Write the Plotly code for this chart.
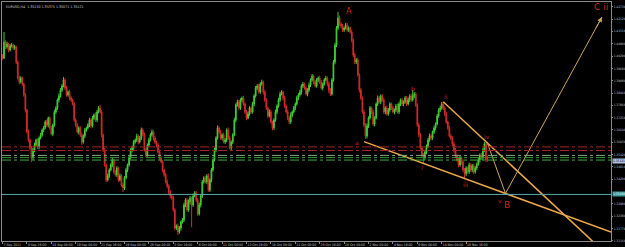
import plotly.graph_objects as go

# ---------------- data (EURUSD, H4) ----------------
first_open = 1.4030
closes = [
    1.4019, 1.4098, 1.4074, 1.4088, 1.4059, 1.4079, 1.4083, 1.4069, 1.4074,
    1.3999, 1.3920, 1.3901, 1.3920, 1.3891,
    1.3837, 1.3762, 1.3654, 1.3614, 1.3575,
    1.3525, 1.3565,
    1.3589, 1.3614, 1.3580, 1.3624, 1.3639, 1.3664, 1.3674, 1.3703, 1.3688, 1.3723,
    1.3674, 1.3644, 1.3688,
    1.3753, 1.3772, 1.3812, 1.3832, 1.3861, 1.3881, 1.3911,
    1.3871, 1.3837, 1.3851, 1.3822, 1.3812, 1.3792,
    1.3713, 1.3688, 1.3654, 1.3674, 1.3639, 1.3604, 1.3634, 1.3664, 1.3674,
    1.3688, 1.3713, 1.3684, 1.3723, 1.3738, 1.3713, 1.3753, 1.3772, 1.3753,
    1.3639, 1.3565, 1.3491, 1.3417, 1.3437, 1.3466,
    1.3491, 1.3515, 1.3456, 1.3442, 1.3476, 1.3417, 1.3437, 1.3392, 1.3377, 1.3427,
    1.3466, 1.3491, 1.3525, 1.3565, 1.3575, 1.3604, 1.3614, 1.3634,
    1.3604, 1.3624, 1.3664, 1.3644, 1.3565, 1.3540, 1.3589, 1.3614, 1.3639,
    1.3654, 1.3624, 1.3604, 1.3589,
    1.3555, 1.3525, 1.3506, 1.3466, 1.3442, 1.3407, 1.3387,
    1.3357, 1.3338, 1.3328, 1.3268, 1.3179,
    1.3189, 1.3160, 1.3179, 1.3209, 1.3219,
    1.3293, 1.3318, 1.3268, 1.3308, 1.3328, 1.3293, 1.3338, 1.3353, 1.3318, 1.3249,
    1.3293, 1.3338, 1.3407, 1.3427, 1.3407, 1.3437, 1.3367, 1.3417, 1.3466, 1.3515, 1.3565, 1.3624, 1.3674,
    1.3654, 1.3624, 1.3639, 1.3604, 1.3614, 1.3664, 1.3624, 1.3575, 1.3604, 1.3639,
    1.3713, 1.3787, 1.3802,
    1.3772, 1.3812, 1.3822, 1.3792, 1.3753, 1.3723, 1.3743, 1.3772, 1.3753, 1.3792, 1.3832, 1.3871,
    1.3881, 1.3851, 1.3891, 1.3901,
    1.3851, 1.3812, 1.3772, 1.3733, 1.3753, 1.3703, 1.3674,
    1.3713, 1.3753, 1.3782, 1.3812, 1.3841, 1.3851,
    1.3822, 1.3782, 1.3753, 1.3723, 1.3703,
    1.3738, 1.3753, 1.3772, 1.3792, 1.3822, 1.3837, 1.3851, 1.3881, 1.3891,
    1.3871, 1.3841, 1.3861, 1.3886,
    1.3911, 1.3930, 1.3901, 1.3881, 1.3911, 1.3920, 1.3901, 1.3871, 1.3891, 1.3911, 1.3920, 1.3891, 1.3861, 1.3841,
    1.3911, 1.3999, 1.4083, 1.4167, 1.4217,
    1.4187, 1.4177, 1.4158, 1.4167, 1.4182, 1.4158, 1.4167, 1.4148,
    1.4108, 1.4034, 1.3999, 1.4009, 1.3935, 1.3861, 1.3822, 1.3753, 1.3688, 1.3634,
    1.3684, 1.3723, 1.3772, 1.3753, 1.3693, 1.3723, 1.3792, 1.3822, 1.3802, 1.3832, 1.3812, 1.3753, 1.3772, 1.3743, 1.3762, 1.3792, 1.3772, 1.3753,
    1.3762, 1.3782, 1.3753, 1.3792, 1.3812, 1.3792, 1.3802, 1.3822, 1.3792, 1.3812, 1.3832, 1.3812, 1.3832, 1.3841, 1.3787, 1.3688,
    1.3639, 1.3575, 1.3540, 1.3525, 1.3555, 1.3584, 1.3614, 1.3634, 1.3624,
    1.3654, 1.3674, 1.3693, 1.3733, 1.3762, 1.3772, 1.3792,
    1.3772, 1.3743, 1.3703, 1.3674, 1.3634,
    1.3624, 1.3594, 1.3565, 1.3535, 1.3515, 1.3491, 1.3525, 1.3506,
    1.3466, 1.3447, 1.3476, 1.3456, 1.3491, 1.3466, 1.3486, 1.3456, 1.3476,
    1.3496, 1.3515, 1.3540, 1.3525, 1.3565, 1.3594,
    1.3515, 1.35121,
]
# upper / lower wick lengths in pips
wick_hi = [
    8, 50, 10, 12, 6, 9, 11, 7, 10, 6, 8, 12, 9, 7, 5, 9, 6, 11, 7, 8,
    10, 12, 6, 9, 8, 11, 7, 10, 9, 12, 6, 8, 10, 7, 11, 9, 8, 12, 10, 9,
    14, 8, 10, 7, 12, 9, 6, 10, 8, 11, 7, 9, 12, 8, 10, 6, 9, 11, 8, 10,
    7, 12, 9, 10, 14, 8, 6, 10, 7, 12, 9, 8, 11, 7, 10, 9, 6, 12, 8, 10,
    9, 11, 7, 10, 8, 12, 9, 7, 11, 8, 10, 12, 9, 7, 10, 8, 11, 9, 12, 8,
    10, 7, 9, 11, 8, 10, 6, 9, 12, 8, 10, 7, 11, 9, 8, 12, 10, 7, 9, 11,
    8, 10, 12, 9, 7, 11, 8, 10, 9, 12, 7, 10, 8, 11, 9, 12, 8, 10, 7, 11,
    9, 12, 8, 10, 7, 11, 9, 8, 12, 10, 7, 9, 11, 8, 12, 10, 9, 7, 11, 8,
    10, 12, 9, 7, 11, 8, 10, 9, 12, 8, 11, 7, 10, 9, 8, 12, 10, 7, 9, 11,
    8, 10, 12, 9, 7, 11, 8, 10, 9, 12, 7, 10, 8, 11, 9, 12, 8, 10, 7, 11,
    9, 12, 8, 10, 7, 11, 9, 8, 12, 10, 7, 9, 11, 8, 12, 10, 9, 11, 12, 10,
    30, 12, 9, 11, 8, 10, 12, 9, 7, 11, 8, 10, 9, 12, 8, 10, 7, 11, 9, 12,
    8, 10, 7, 11, 9, 8, 12, 10, 7, 9, 11, 8, 12, 10, 9, 7, 11, 8, 10, 12,
    9, 7, 11, 8, 10, 9, 12, 8, 11, 29, 10, 9, 8, 12, 10, 7, 9, 11, 8, 10,
    12, 9, 7, 11, 8, 10, 9, 12, 10, 11, 8, 10, 7, 11, 9, 8, 12, 10, 7, 9,
    11, 8, 12, 10, 9, 7, 11, 8, 10, 12, 9, 7, 11, 8, 10, 9, 10, 8, 22,
]
wick_lo = [
    8, 6, 10, 9, 12, 7, 8, 11, 9, 10, 7, 12, 8, 10, 9, 11, 8, 10, 12, 19,
    9, 11, 8, 10, 12, 7, 9, 11, 8, 10, 12, 9, 7, 11, 8, 10, 9, 12, 8, 10,
    7, 11, 9, 8, 12, 10, 7, 9, 11, 8, 12, 10, 14, 8, 11, 9, 7, 10, 12, 8,
    10, 9, 11, 7, 8, 12, 10, 9, 11, 8, 10, 7, 12, 9, 8, 11, 10, 7, 9, 20,
    10, 8, 11, 9, 7, 12, 10, 8, 9, 11, 7, 10, 12, 8, 11, 9, 10, 7, 8, 12,
    9, 11, 8, 10, 7, 12, 9, 8, 11, 10, 12, 9, 8, 11, 10, 15, 9, 12, 8, 10,
    11, 9, 8, 12, 110, 10, 7, 11, 9, 8, 12, 10, 9, 7, 11, 8, 10, 12, 9, 7,
    11, 8, 10, 9, 12, 7, 10, 11, 8, 9, 12, 10, 7, 11, 8, 10, 9, 12, 8, 10,
    11, 7, 9, 10, 8, 12, 9, 11, 7, 10, 8, 12, 9, 10, 11, 7, 8, 12, 10, 9,
    11, 8, 10, 7, 12, 9, 8, 11, 10, 9, 12, 7, 10, 8, 11, 9, 12, 10, 8, 7,
    11, 9, 10, 8, 12, 7, 9, 11, 10, 8, 12, 9, 7, 11, 14, 10, 8, 9, 11, 10,
    9, 8, 12, 10, 11, 7, 9, 10, 8, 12, 11, 9, 10, 8, 12, 10, 9, 11, 14, 12,
    10, 8, 11, 9, 12, 7, 10, 8, 11, 9, 10, 12, 8, 9, 11, 10, 7, 12, 9, 8,
    11, 10, 9, 12, 8, 10, 7, 11, 9, 8, 12, 10, 9, 11, 8, 10, 29, 9, 12, 10,
    8, 11, 9, 10, 12, 7, 9, 10, 8, 11, 12, 9, 10, 8, 11, 9, 12, 10, 8, 11,
    9, 12, 10, 20, 11, 8, 10, 9, 12, 11, 8, 10, 9, 12, 8, 10, 11, 9, 5,
]

date_tick_bars = [0, 16, 32, 48, 64, 80, 96, 112, 128, 144, 160, 176, 192, 208, 224, 240, 256, 272, 288, 304]
date_tick_text = ["7 Sep 2011", "9 Sep 16:00", "14 Sep 08:00", "19 Sep 00:00", "21 Sep 16:00",
                  "26 Sep 08:00", "29 Sep 00:00", "3 Oct 16:00", "6 Oct 08:00", "11 Oct 00:00",
                  "13 Oct 16:00", "18 Oct 08:00", "21 Oct 00:00", "25 Oct 16:00", "28 Oct 08:00",
                  "2 Nov 00:00", "4 Nov 16:00", "9 Nov 08:00", "14 Nov 00:00", "16 Nov 16:00"]
# 1.33590 is hidden behind the highlighted line label in the reference
price_ticks = [1.4273, 1.4212, 1.4151, 1.4090, 1.4029, 1.3968, 1.3908, 1.3846, 1.3786, 1.3725,
               1.3664, 1.3603, 1.3542, 1.3481, 1.3420, 1.3298, 1.3238, 1.3177, 1.3116]

hline_teal = 1.3345
hlines_red = [1.3580, 1.3562]
hlines_green = [1.3538, 1.3527, 1.3515]
green_colors = ["#86a886", "#2f9a2f", "#3cb043"]

lower_line_bars = [237, 399]
lower_line_prices = [1.3606, 1.3159]
upper_line_bars = [289, 387]
upper_line_prices = [1.3803, 1.3113]
path_bars = [317.7, 329.8, 393.1]
path_prices = [1.3604, 1.3350, 1.4222]

wave_labels = ["A", "C ii", "B", "a", "b", "i", "ii", "iii", "iv", "v"]
wave_bars = [227.2, 392.5, 330.5, 232.5, 269.2, 275.1, 291.1, 303.3, 317.7, 325.9]
wave_prices = [1.4251, 1.4271, 1.3293, 1.3600, 1.3869, 1.3478, 1.3829, 1.3392, 1.3632, 1.3315]
wave_sizes = [8, 9, 9, 6, 6, 6, 6, 6, 6, 6]

header = "EURUSD,H4  1.35150 1.35375 1.35071 1.35121"

assert len(closes) == len(wick_hi) == len(wick_lo), (len(closes), len(wick_hi), len(wick_lo))

opens = [first_open] + closes[:-1]
highs = [max(o, c) + h / 10000 for o, c, h in zip(opens, closes, wick_hi)]
lows = [min(o, c) - l / 10000 for o, c, l in zip(opens, closes, wick_lo)]
bars = list(range(len(closes)))

small_font = "DejaVu Sans Condensed, DejaVu Sans, sans-serif"

fig = go.Figure()
fig.add_trace(go.Candlestick(
    x=bars, open=opens, high=highs, low=lows, close=closes,
    increasing=dict(line=dict(color="#3fcf35", width=1), fillcolor="#3fcf35"),
    decreasing=dict(line=dict(color="#d42a2a", width=1), fillcolor="#d42a2a"),
    whiskerwidth=0, showlegend=False, hoverinfo="skip",
))

gold = "#eaa84a"
fig.add_trace(go.Scatter(x=lower_line_bars, y=lower_line_prices, mode="lines",
                         line=dict(color=gold, width=1.5), showlegend=False, hoverinfo="skip"))
fig.add_trace(go.Scatter(x=upper_line_bars, y=upper_line_prices, mode="lines",
                         line=dict(color=gold, width=1.5), showlegend=False, hoverinfo="skip"))
fig.add_trace(go.Scatter(x=path_bars, y=path_prices, mode="lines",
                         line=dict(color="#c9a55a", width=1), showlegend=False, hoverinfo="skip"))

shapes = []
shapes.append(dict(type="line", xref="paper", x0=0, x1=1, yref="y", y0=hline_teal, y1=hline_teal,
                   line=dict(color="#55a9a9", width=1)))
for yv in hlines_red:
    shapes.append(dict(type="line", xref="paper", x0=0, x1=1, yref="y", y0=yv, y1=yv,
                       line=dict(color="#a82424", width=1, dash="dashdot")))
for yv, col in zip(hlines_green, green_colors):
    shapes.append(dict(type="line", xref="paper", x0=0, x1=1, yref="y", y0=yv, y1=yv,
                       line=dict(color=col, width=1, dash="dashdot")))

annotations = []
for t, xb, yp, sz in zip(wave_labels, wave_bars, wave_prices, wave_sizes):
    annotations.append(dict(x=xb, y=yp, xref="x", yref="y", text=t, showarrow=False,
                            font=dict(family="DejaVu Sans", size=sz, color="#d42222")))
# arrow head of the C-wave projection
annotations.append(dict(x=path_bars[2], y=path_prices[2], xref="x", yref="y",
                        ax=path_bars[1] + 0.93 * (path_bars[2] - path_bars[1]),
                        ay=path_prices[1] + 0.93 * (path_prices[2] - path_prices[1]),
                        axref="x", ayref="y", text="", showarrow=True,
                        arrowhead=2, arrowsize=1, arrowwidth=1, arrowcolor="#c9a55a"))
annotations.append(dict(x=0.003, y=0.997, xref="paper", yref="paper", xanchor="left", yanchor="top",
                        text=header, showarrow=False,
                        font=dict(family=small_font, size=3.6, color="#c8c8c8")))
annotations.append(dict(x=1, xshift=1, xanchor="left", xref="paper", y=closes[-1], yref="y",
                        text="%.5f" % closes[-1], showarrow=False, bgcolor="#a9c3dc", borderpad=0,
                        font=dict(family=small_font, size=3.2, color="#000000")))
annotations.append(dict(x=1, xshift=1, xanchor="left", xref="paper", y=hline_teal, yref="y",
                        text="%.5f" % hline_teal, showarrow=False, bgcolor="#3a9a9a", borderpad=0,
                        font=dict(family=small_font, size=3.2, color="#ffffff")))

fig.update_layout(
    width=625, height=247,
    margin=dict(l=2, r=14, t=2, b=6, autoexpand=False),
    paper_bgcolor="#000000", plot_bgcolor="#000000",
    shapes=shapes, annotations=annotations,
    xaxis=dict(range=[-0.33, 399], rangeslider=dict(visible=False), showgrid=False, zeroline=False,
               tickmode="array", tickvals=date_tick_bars, ticktext=date_tick_text,
               tickangle=0, automargin=False,
               ticks="outside", ticklen=2, tickcolor="#8a8a8a",
               ticklabelposition="outside right", ticklabelstandoff=0,
               tickfont=dict(family=small_font, size=3.4, color="#c0c0c0"),
               showline=True, linecolor="#8a8a8a", linewidth=1, mirror=True),
    yaxis=dict(range=[1.3115, 1.4296], side="right", showgrid=False, zeroline=False,
               automargin=False,
               tickmode="array", tickvals=price_ticks, tickformat=".5f",
               ticks="outside", ticklen=1, tickcolor="#8a8a8a", ticklabelstandoff=0,
               tickfont=dict(family=small_font, size=3.2, color="#c0c0c0"),
               showline=True, linecolor="#8a8a8a", linewidth=1, mirror=True),
)

fig.write_html("out.html")
